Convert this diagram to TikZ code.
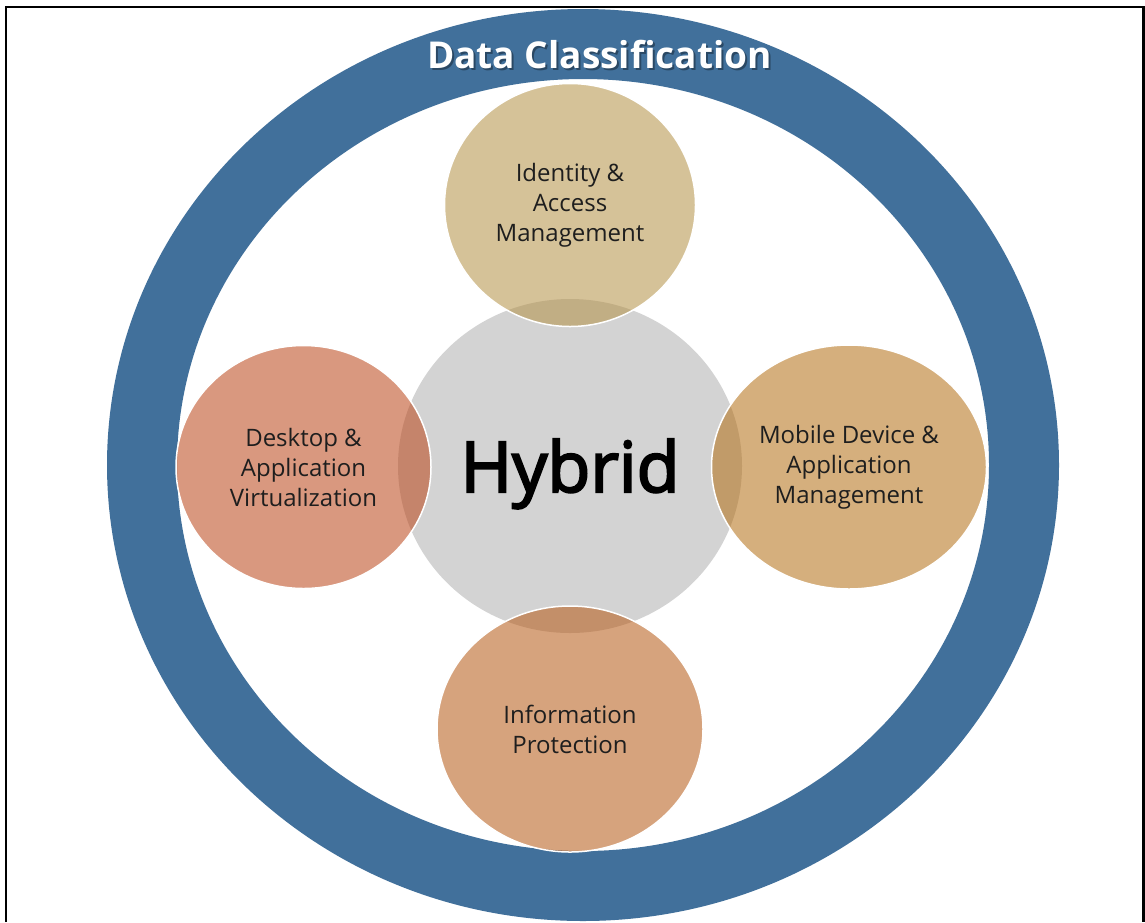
\documentclass[tikz,border=0pt]{standalone}
\usepackage{fontspec}
\setmainfont{Open Sans}
\newfontfamily\hubfont{Open Sans}[FakeBold=3]
\usepackage{xcolor}
\definecolor{dcblue}{RGB}{65,112,155}
\definecolor{hubgray}{RGB}{211,211,211}
\definecolor{iamtan}{RGB}{180,144,68}
\definecolor{davred}{RGB}{186,68,22}
\definecolor{mdamorange}{RGB}{180,110,19}
\definecolor{ipbrown}{RGB}{182,88,19}
\definecolor{labelgray}{RGB}{30,30,30}
\usetikzlibrary{shapes.geometric}

\begin{document}
\begin{tikzpicture}[x=1pt, y=-1pt,
        ring/.style={draw=dcblue, line width=70pt},
        hubnode/.style={ellipse, fill=hubgray, inner sep=0pt,
                        font=\hubfont\fontsize{70}{80}\selectfont, text=black},
        satnode/.style={ellipse, draw=white, line width=1.5pt, fill opacity=0.55,
                        text opacity=1, inner sep=0pt, align=center, text=labelgray,
                        font=\fontsize{24}{30}\selectfont},
        titlenode/.style={anchor=base, font=\fontsize{37}{44}\selectfont\bfseries}
      ]
        \useasboundingbox (0,0) rectangle (1145,922);
        \fill[white] (0,0) rectangle (1145,922);
        \draw[line width=2.5pt] (6,922) -- (6,7) -- (1143.5,7) -- (1143.5,922);

        % outer band
        \draw[ring] (583,465) ellipse [x radius=441, y radius=421];
        \node[titlenode, text=black, opacity=0.35] (titleshadow) at (601.5,70) {Data Classification};
        \node[titlenode, text=white] (title) at (599.5,68) {Data Classification};

        \node[hubnode, minimum width=344pt, minimum height=334pt] (hub) at (570,466) {\raisebox{-26pt}[0pt][0pt]{Hybrid}};

        \node[satnode, fill=iamtan,     minimum width=251pt, minimum height=243pt] (iam)  at (570,205)   {Identity \&\\Access\\Management};
        \node[satnode, fill=davred,     minimum width=255pt, minimum height=243pt] (dav)  at (303.5,467) {Desktop \&\\Application\\Virtualization};
        \node[satnode, fill=mdamorange, minimum width=275pt, minimum height=244pt] (mdam) at (849,467)   {Mobile Device \&\\Application\\Management};
        \node[satnode, fill=ipbrown,    minimum width=266pt, minimum height=246pt] (ip)   at (570,729)   {Information\\Protection};
      \end{tikzpicture}
\end{document}
